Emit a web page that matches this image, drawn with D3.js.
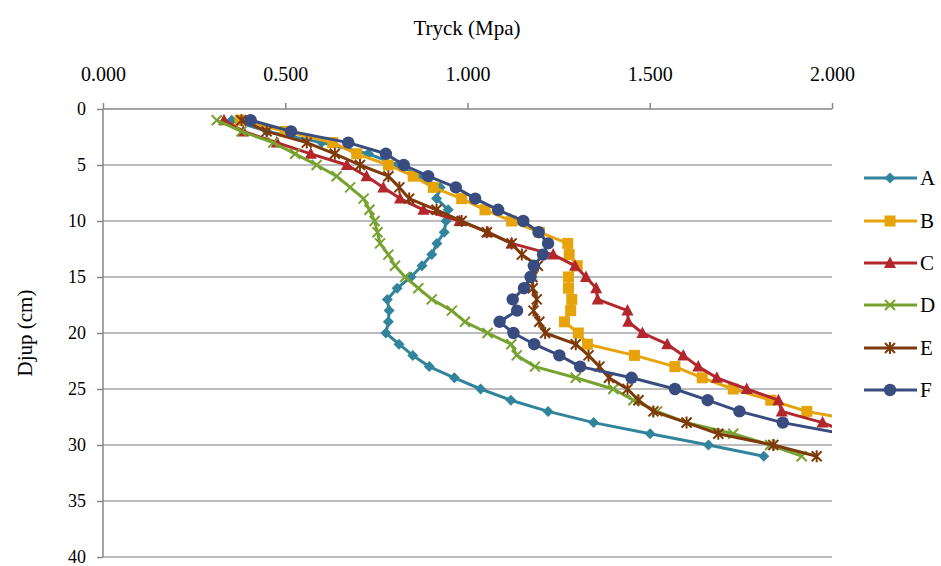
<!DOCTYPE html>
<html><head><meta charset="utf-8">
<script src="https://cdn.jsdelivr.net/npm/d3@7"></script>
<style>body{margin:0;background:#fff}svg{display:block}svg text{font-family:"Liberation Serif","Times New Roman",serif !important;fill:#000}</style>
</head><body><svg id="c" width="941" height="566"></svg>
<script>
const seriesNames = ["A","B","C","D","E","F"];
const depthsA = d3.range(1,32);
const valuesA = [0.353,0.45,0.60,0.728,0.81,0.87,0.925,0.915,0.947,0.941,0.936,0.916,0.902,0.875,0.845,0.807,0.780,0.785,0.783,0.776,0.812,0.850,0.895,0.964,1.036,1.119,1.221,1.346,1.501,1.661,1.813];
const valuesB = [0.376,0.50,0.63,0.696,0.783,0.851,0.906,0.984,1.048,1.121,1.197,1.275,1.279,1.301,1.277,1.277,1.286,1.283,1.266,1.304,1.329,1.458,1.569,1.644,1.729,1.832,1.931,2.10];
const valuesC = [0.332,0.385,0.477,0.57,0.669,0.723,0.769,0.815,0.879,0.978,1.056,1.121,1.235,1.295,1.325,1.353,1.357,1.439,1.441,1.480,1.548,1.592,1.633,1.684,1.766,1.853,1.862,1.974,2.05];
const valuesD = [0.312,0.380,0.467,0.527,0.586,0.641,0.678,0.715,0.731,0.745,0.753,0.760,0.783,0.801,0.829,0.865,0.902,0.957,0.993,1.055,1.120,1.135,1.185,1.297,1.400,1.455,1.52,1.601,1.729,1.830,1.917];
const valuesE = [0.380,0.449,0.559,0.636,0.705,0.783,0.813,0.840,0.915,0.984,1.053,1.121,1.149,1.193,1.178,1.179,1.190,1.181,1.197,1.213,1.297,1.332,1.362,1.388,1.439,1.469,1.510,1.601,1.688,1.839,1.958];
const valuesF = [0.405,0.516,0.673,0.776,0.825,0.892,0.968,1.021,1.084,1.153,1.195,1.221,1.207,1.182,1.173,1.155,1.124,1.136,1.088,1.126,1.183,1.252,1.309,1.450,1.569,1.659,1.746,1.865,2.03];
const xTicks = [0,0.5,1.0,1.5,2.0];
const yTicks = [0,5,10,15,20,25,30,35,40];
const colors = ["#31849B","#E6A40A","#B3262C","#77A22F","#7E3A0A","#384C80"];
const markers = ["diamond","square","triangle","x","star","circle"];
const allValues = [valuesA,valuesB,valuesC,valuesD,valuesE,valuesF];

const svg = d3.select("#c");
const L=103,T=109,R=832,B=557;
const x = d3.scaleLinear().domain([0,2]).range([L,R]);
const y = d3.scaleLinear().domain([0,40]).range([T,B]);

svg.append("g").selectAll("line").data(yTicks.slice(1)).join("line")
  .attr("x1",L).attr("x2",R).attr("y1",d=>y(d)).attr("y2",d=>y(d))
  .attr("stroke","#a6a6a6").attr("stroke-width",1.5);

const xAxis = svg.append("g").attr("transform",`translate(0,${T})`)
  .call(d3.axisTop(x).tickValues(xTicks).tickFormat(d3.format(".3f")).tickSize(6).tickPadding(22));
const yAxis = svg.append("g").attr("transform",`translate(${L},0)`)
  .call(d3.axisLeft(y).tickValues(yTicks).tickSize(6).tickPadding(11));
[xAxis,yAxis].forEach(g=>{
  g.attr("font-family",null);
  g.select(".domain").attr("stroke","#868686").attr("stroke-width",1.5);
  g.selectAll(".tick line").attr("stroke","#868686").attr("stroke-width",1.5);
  g.selectAll(".tick text").attr("fill","#000");
});
xAxis.selectAll(".tick text").attr("font-size",20);
yAxis.selectAll(".tick text").attr("font-size",18).attr("dy","0.3em");
yAxis.select(".domain").attr("d",`M-0,${T}H0V${B}H-0`);
xAxis.select(".domain").attr("d",`M${L},0H${R}`);

svg.append("text").attr("x",467).attr("y",35).attr("text-anchor","middle").attr("font-size",21).text("Tryck (Mpa)");
svg.append("text").attr("transform","translate(32,333) rotate(-90)").attr("text-anchor","middle").attr("font-size",21).text("Djup (cm)");

svg.append("clipPath").attr("id","clip").append("rect").attr("x",L).attr("y",T-8).attr("width",R-L).attr("height",B-T+8);

function drawMarker(g,type,color,cx,cy){
  const s=5.5;
  if(type==="diamond"){
    g.append("path").attr("d",`M${cx},${cy-s}L${cx+s},${cy}L${cx},${cy+s}L${cx-s},${cy}Z`).attr("fill",color);
  } else if(type==="square"){
    g.append("rect").attr("x",cx-5.5).attr("y",cy-5.5).attr("width",11).attr("height",11).attr("fill",color);
  } else if(type==="triangle"){
    g.append("path").attr("d",`M${cx},${cy-6.5}L${cx+6},${cy+5}L${cx-6},${cy+5}Z`).attr("fill",color);
  } else if(type==="x"){
    g.append("path").attr("d",`M${cx-5},${cy-5}L${cx+5},${cy+5}M${cx-5},${cy+5}L${cx+5},${cy-5}`).attr("stroke",color).attr("stroke-width",2);
  } else if(type==="star"){
    g.append("path").attr("d",`M${cx-5},${cy-5}L${cx+5},${cy+5}M${cx-5},${cy+5}L${cx+5},${cy-5}M${cx},${cy-6}L${cx},${cy+6}`).attr("stroke",color).attr("stroke-width",2);
  } else {
    g.append("circle").attr("cx",cx).attr("cy",cy).attr("r",6.2).attr("fill",color);
  }
}

const plot = svg.append("g").attr("clip-path","url(#clip)");
const line = d3.line().x(d=>x(d.v)).y(d=>y(d.d));
allValues.forEach((vals,i)=>{
  const pts = vals.map((v,k)=>({v,d:depthsA[k]}));
  const g = plot.append("g");
  g.append("path").datum(pts).attr("d",line).attr("fill","none").attr("stroke",colors[i]).attr("stroke-width",3).attr("stroke-linejoin","round");
  pts.forEach(p=>drawMarker(g,markers[i],colors[i],x(p.v),y(p.d)));
});

const legY = [178,221,263,305,348,390];
seriesNames.forEach((n,i)=>{
  const g = svg.append("g");
  g.append("line").attr("x1",864).attr("x2",917).attr("y1",legY[i]).attr("y2",legY[i]).attr("stroke",colors[i]).attr("stroke-width",3);
  drawMarker(g,markers[i],colors[i],890,legY[i]);
  g.append("text").attr("x",920).attr("y",legY[i]+7).attr("font-size",21).text(n);
});
</script></body></html>
